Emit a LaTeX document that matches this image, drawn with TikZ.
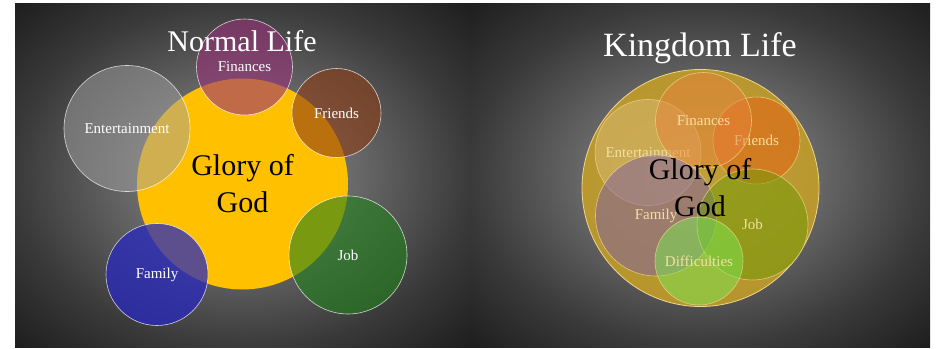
\documentclass[tikz,border=0pt]{standalone}
\usepackage{fontspec}
\setmainfont{Liberation Serif}
\usepackage{xcolor}
\usetikzlibrary{positioning}

\definecolor{bgcore}{HTML}{979797}
\definecolor{bgmid}{HTML}{6A6A6A}
\definecolor{bgedge}{HTML}{3A3A3A}
\definecolor{bgdark}{HTML}{1C1C1C}
\pgfdeclareradialshading{panelglow}{\pgfpoint{0bp}{0bp}}{color(0bp)=(bgcore); color(12bp)=(bgmid); color(25bp)=(bgedge); color(36bp)=(bgdark); color(50bp)=(bgdark)}

\definecolor{goldsun}{HTML}{FFC000}
\definecolor{plum}{HTML}{963278}
\definecolor{rust}{HTML}{8C3C14}
\definecolor{fog}{HTML}{A0A0A0}
\definecolor{leaf}{HTML}{21811B}
\definecolor{ink}{HTML}{2828BE}
\definecolor{kingbase}{HTML}{C9A127}
\definecolor{kingline}{HTML}{F0D68C}
\definecolor{kingtext}{HTML}{F2E0A4}
\definecolor{fun}{HTML}{D8BA72}
\definecolor{blaze}{HTML}{E85E12}
\definecolor{coin}{HTML}{E8823A}
\definecolor{kin}{HTML}{7C5EA6}
\definecolor{work}{HTML}{6C9A04}
\definecolor{trial}{HTML}{78EA52}

\begin{document}
\begin{tikzpicture}[x=1pt, y=-1pt,
    bubble/.style={circle, draw=white, draw opacity=0.75, line width=0.6pt, inner sep=0pt, fill opacity=0.6, text opacity=1, text=white, font=\fontsize{15}{18}\selectfont},
    kbubble/.style={bubble, draw=kingline, draw opacity=0.8, fill opacity=0.5, text=kingtext},
    heading/.style={anchor=base, text=white, inner sep=0pt},
    glory/.style={align=center, text=black, inner sep=0pt, font=\fontsize{30}{37}\selectfont}]

    \useasboundingbox (0,0) rectangle (936,348);
    \shade[shading=panelglow] (15,3) rectangle (470,347);
    \shade[shading=panelglow] (470,3) rectangle (930,347);

    \node (hubnormal) [circle, fill=goldsun, inner sep=0pt, minimum size=211pt, glory] at (242.5,184) {Glory of\\God};
    \node (finnormal) [bubble, fill=plum, minimum size=96pt] at (244.5,67) {Finances};
    \node (frinormal) [bubble, fill=rust, minimum size=89pt] at (336.5,113) {Friends};
    \node (entnormal) [bubble, fill=fog, fill opacity=0.5, minimum size=126pt] at (127,128.5) {Entertainment};
    \node (jobnormal) [bubble, fill=leaf, minimum size=118pt] at (348,255) {Job};
    \node (famnormal) [bubble, fill=ink, fill opacity=0.75, minimum size=102pt] at (157,274.5) {Family};
    \node (normal) [heading, font=\fontsize{30}{36}\selectfont] at (242,51.5) {Normal Life};

    \node (hubkingdom) [circle, fill=kingbase, fill opacity=0.85, draw=kingline, line width=0.8pt, minimum size=237pt] at (700.5,188) {};
    \node (entkingdom) [kbubble, fill=fun, minimum size=106pt] at (648,152.5) {Entertainment};
    \node (frikingdom) [kbubble, fill=blaze, minimum size=87pt] at (756.5,140.5) {Friends};
    \node (finkingdom) [kbubble, fill=coin, minimum size=96pt] at (703.5,120.5) {Finances};
    \node (famkingdom) [kbubble, fill=kin, minimum size=121pt] at (656,215.5) {Family};
    \node (jobkingdom) [kbubble, fill=work, minimum size=111pt] at (752.5,224.5) {Job};
    \node (difkingdom) [kbubble, fill=trial, minimum size=88pt] at (699,261) {Difficulties};
    \node (godkingdom) [glory] at (700,188) {Glory of\\God};
    \node (kingdom) [heading, font=\fontsize{34}{40}\selectfont] at (700,56.5) {Kingdom Life};
\end{tikzpicture}
\end{document}
